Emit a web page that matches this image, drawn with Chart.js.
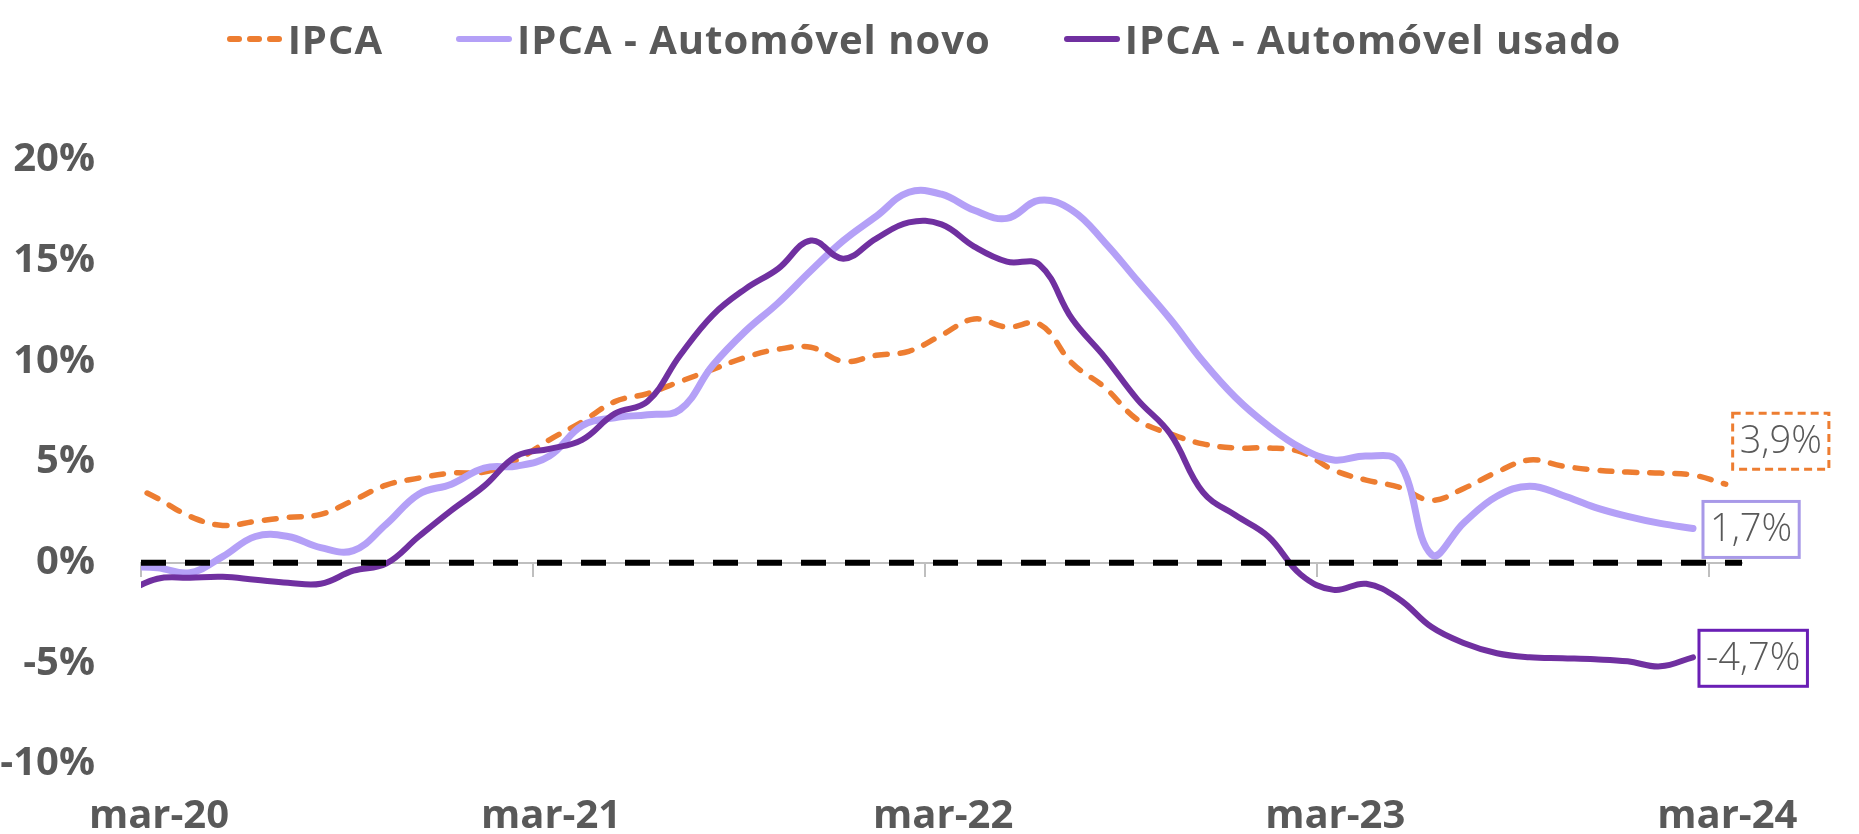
<!DOCTYPE html>
<html lang="pt-BR">
<head>
<meta charset="utf-8">
<title>IPCA x automóveis novos e usados</title>
<script src="https://cdn.jsdelivr.net/npm/chart.js@4.4.1/dist/chart.umd.min.js"></script>
<style>
  html, body { margin: 0; background: #fff; }
  #wrap { position: relative; width: 1859px; height: 834px; }
  #chart { position: absolute; left: 0; top: 0; }
  #legend {
    position: absolute; left: 0; top: 16px; width: 1847px; height: 46px;
    display: flex; justify-content: center; align-items: center; gap: 72px;
    font: bold 40px "Open Sans", sans-serif; letter-spacing: 1px; color: #595959; z-index: 1;
  }
  #legend .item { display: flex; align-items: center; line-height: 46px; white-space: nowrap; }
  #legend svg { margin-right: 4px; }
</style>
</head>
<body>
<div id="wrap">
  <div id="legend"></div>
  <canvas id="chart" width="1859" height="834"></canvas>
</div>
<script>
// meses (o ponto fica no meio do mês; fev-20 cai fora do eixo e é cortado)
var months = [
    "fev-20", "mar-20", "abr-20", "mai-20", "jun-20", "jul-20", "ago-20", "set-20", "out-20", "nov-20", "dez-20",
    "jan-21", "fev-21", "mar-21", "abr-21", "mai-21", "jun-21", "jul-21", "ago-21", "set-21", "out-21", "nov-21", "dez-21",
    "jan-22", "fev-22", "mar-22", "abr-22", "mai-22", "jun-22", "jul-22", "ago-22", "set-22", "out-22", "nov-22", "dez-22",
    "jan-23", "fev-23", "mar-23", "abr-23", "mai-23", "jun-23", "jul-23", "ago-23", "set-23", "out-23", "nov-23", "dez-23",
    "jan-24", "fev-24", "mar-24",
];

// variação em 12 meses (%)
var ipca = [
    4.0, 3.2, 2.3, 1.85, 2.05, 2.25, 2.4, 3.1, 3.85, 4.2, 4.45, 4.5, 5.1, 6.1, 7.0, 8.0, 8.4,
    9.0, 9.6, 10.2, 10.6, 10.7, 10.0, 10.3, 10.5, 11.3, 12.1, 11.7, 11.85, 9.9, 8.7, 7.1, 6.4,
    5.9, 5.7, 5.7, 5.5, 4.6, 4.1, 3.75, 3.1, 3.7, 4.5, 5.1, 4.8, 4.6, 4.5, 4.45, 4.35, 3.9,
];
var automovelNovo = [
    -0.2, -0.25, -0.5, 0.3, 1.3, 1.3, 0.75, 0.6, 1.9, 3.4, 3.9, 4.7, 4.8, 5.3, 6.8, 7.2, 7.35,
    7.6, 9.8, 11.5, 12.9, 14.5, 16.0, 17.2, 18.4, 18.3, 17.5, 17.1, 18.0, 17.5, 15.9, 14.0, 12.1,
    10.0, 8.2, 6.8, 5.7, 5.1, 5.3, 5.0, 0.4, 2.0, 3.3, 3.8, 3.35, 2.75, 2.3, 1.95, 1.7,
];
var automovelUsado = [
    -1.5, -0.8, -0.75, -0.7, -0.85, -1.0, -1.05, -0.4, -0.05, 1.3, 2.6, 3.8, 5.3, 5.65, 6.1, 7.4, 8.0,
    10.3, 12.3, 13.6, 14.6, 16.0, 15.1, 16.1, 16.9, 16.8, 15.7, 14.95, 14.8, 12.1, 10.2, 8.1, 6.4,
    3.5, 2.35, 1.3, -0.6, -1.35, -1.05, -1.8, -3.2, -4.0, -4.5, -4.7, -4.75, -4.8, -4.9, -5.15, -4.7,
];

// eixo x em meses contados a partir do início de mar-20
var xTickValues = [0, 12, 24, 36, 48];
var xTickLabels = ["mar-20", "mar-21", "mar-22", "mar-23", "mar-24"];
var xMin = 0;
var xMax = 49;

var seriesNames = ["IPCA", "IPCA - Automóvel novo", "IPCA - Automóvel usado"];

var gray = "#595959";
var orange = "#ED7D31";
var lilac = "#B4A0F7";
var purple = "#7030A0";

function toPoints(values) {
    return values.map(function (v, i) {
        return { x: i - 0.5, y: v };
    });
}

function setTicks(axis) {
    axis.ticks = xTickValues.map(function (v) {
        return { value: v };
    });
}

// caixinha com o último valor no fim de cada linha
var endLabels = {
    id: "endLabels",
    afterDatasetsDraw: function (chart) {
        var ctx = chart.ctx;
        chart.data.datasets.forEach(function (ds, i) {
            if (!ds.endLabel) return;
            var meta = chart.getDatasetMeta(i);
            var pt = meta.data[meta.data.length - 1];
            var value = ds.data[ds.data.length - 1].y;
            var text = value.toFixed(1).replace(".", ",") + "%";
            ctx.save();
            ctx.font = "300 38px 'Open Sans', sans-serif";
            var w = ctx.measureText(text).width + 14;
            var h = 56;
            var left = pt.x + ds.endLabel.dx;
            var top = pt.y + ds.endLabel.dy - h / 2;
            ctx.fillStyle = "#fff";
            ctx.fillRect(left, top, w, h);
            ctx.lineWidth = 3;
            ctx.strokeStyle = ds.endLabel.border;
            ctx.setLineDash(ds.endLabel.dash || []);
            ctx.strokeRect(left, top, w, h);
            ctx.setLineDash([]);
            ctx.fillStyle = gray;
            ctx.textAlign = "center";
            ctx.textBaseline = "middle";
            ctx.fillText(text, left + w / 2, top + h / 2 + 1);
            ctx.restore();
        });
    },
};

var tickFont = { family: "Open Sans", weight: "bold", size: 40 };

var ctx = document.getElementById("chart").getContext("2d");

var chart = new Chart(ctx, {
    type: "line",
    data: {
        datasets: [
            {
                label: "zero",
                data: [{ x: xMin, y: 0 }, { x: xMax, y: 0 }],
                borderColor: "#000000",
                borderWidth: 6,
                borderDash: [25, 19],
                pointRadius: 0,
                order: 0,
            },
            {
                label: seriesNames[2],
                data: toPoints(automovelUsado),
                borderColor: purple,
                borderWidth: 6,
                borderCapStyle: "round",
                pointRadius: 0,
                tension: 0.4,
                order: 1,
                legendOrder: 2,
                endLabel: { dx: 6, dy: 1, border: "#6A1FB5" },
            },
            {
                label: seriesNames[1],
                data: toPoints(automovelNovo),
                borderColor: lilac,
                borderWidth: 7,
                borderCapStyle: "round",
                pointRadius: 0,
                tension: 0.4,
                order: 2,
                legendOrder: 1,
                endLabel: { dx: 10, dy: 1, border: "#A899E8" },
            },
            {
                label: seriesNames[0],
                data: toPoints(ipca),
                borderColor: orange,
                borderWidth: 5.5,
                borderDash: [12, 13],
                borderCapStyle: "round",
                pointRadius: 0,
                tension: 0.4,
                order: 3,
                legendOrder: 0,
                endLabel: { dx: 7, dy: -43, border: orange, dash: [8, 5] },
            },
        ],
    },
    options: {
        responsive: false,
        animation: false,
        layout: { padding: { top: 160, right: 117, bottom: 0, left: 0 } },
        plugins: {
            legend: { display: false },
            tooltip: { enabled: false },
        },
        scales: {
            x: {
                type: "linear",
                min: xMin,
                max: xMax,
                afterBuildTicks: setTicks,
                afterFit: function (s) {
                    s.height = 69;
                },
                ticks: {
                    padding: 29,
                    labelOffset: 18,
                    maxRotation: 0,
                    autoSkip: false,
                    color: gray,
                    font: tickFont,
                    callback: function (v, i) {
                        return xTickLabels[i];
                    },
                },
                grid: { display: false, drawTicks: false },
                border: { display: false },
            },
            y: {
                min: -10,
                max: 20,
                afterFit: function (s) {
                    s.width = 141;
                },
                ticks: {
                    stepSize: 5,
                    padding: 46,
                    color: gray,
                    font: tickFont,
                    callback: function (v) {
                        return v + "%";
                    },
                },
                grid: { display: false, drawTicks: false },
                border: { display: false },
            },
            // linha cinza do eixo passando no zero, com as marcas
            xAxisLine: {
                type: "linear",
                axis: "x",
                min: xMin,
                max: xMax,
                position: { y: 0 },
                afterBuildTicks: setTicks,
                ticks: { display: false },
                grid: {
                    drawOnChartArea: false,
                    drawTicks: true,
                    tickLength: 13,
                    color: "#BFBFBF",
                    lineWidth: 2,
                },
                border: { display: true, color: "#BFBFBF", width: 2 },
            },
        },
    },
    plugins: [endLabels],
});

// legenda em HTML
var legendEl = document.getElementById("legend");
chart.data.datasets
    .filter(function (ds) {
        return ds.legendOrder !== undefined;
    })
    .sort(function (a, b) {
        return a.legendOrder - b.legendOrder;
    })
    .forEach(function (ds) {
        var item = document.createElement("div");
        item.className = "item";
        var dash = ds.borderDash ? 'stroke-dasharray="9 11"' : "";
        item.innerHTML =
            '<svg width="58" height="12"><line x1="4" y1="6" x2="54" y2="6" stroke="' +
            ds.borderColor +
            '" stroke-width="6" stroke-linecap="round" ' +
            dash +
            "/></svg><span>" +
            ds.label +
            "</span>";
        legendEl.appendChild(item);
    });
</script>
</body>
</html>
